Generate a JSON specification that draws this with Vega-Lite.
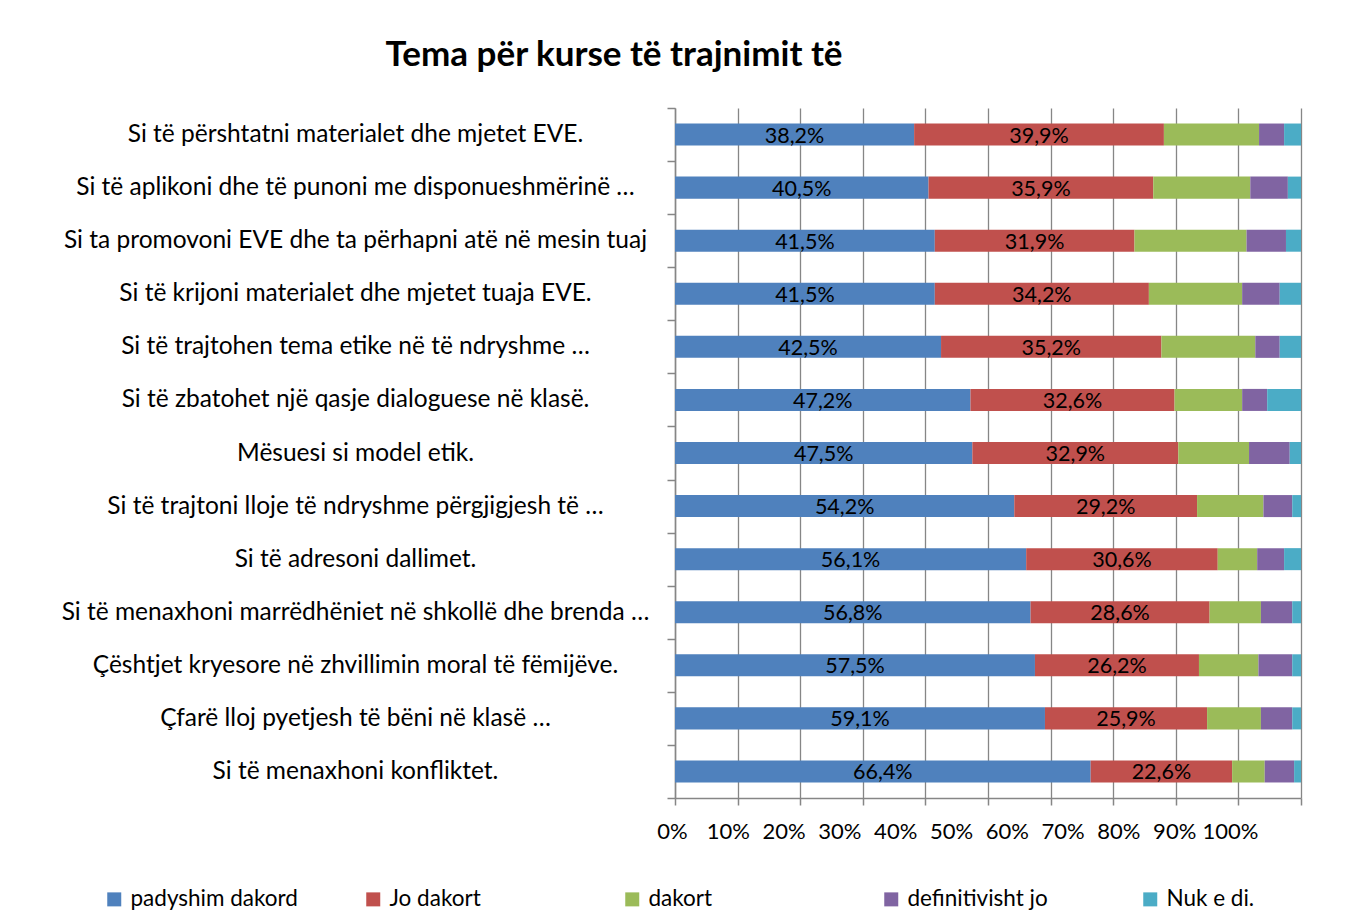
{
  "$schema": "https://vega.github.io/schema/vega-lite/v6.json",
  "autosize": {"type": "none"},
  "padding": {"left": 675, "top": 108, "right": 59, "bottom": 121},
  "width": 626,
  "height": 690,
  "background": "white",
  "title": {
    "text": "Tema për kurse të trajnimit të",
    "font": "Lato",
    "fontSize": 35,
    "fontWeight": "bold",
    "color": "#000000",
    "anchor": "middle",
    "frame": "group",
    "dx": -374,
    "dy": 48,
    "baseline": "alphabetic",
    "offset": 42
  },
  "config": {
    "locale": {
      "number": {"decimal": ",", "thousands": ".", "grouping": [3], "currency": ["", " €"]}
    },
    "view": {"stroke": null},
    "font": "Lato"
  },
  "datasets": {
    "survey": [
      {"topic": "Si të përshtatni materialet dhe mjetet EVE.", "cat": "padyshim dakord", "pct": 38.2},
      {"topic": "Si të përshtatni materialet dhe mjetet EVE.", "cat": "Jo dakort", "pct": 39.9},
      {"topic": "Si të përshtatni materialet dhe mjetet EVE.", "cat": "dakort", "pct": 15.2},
      {"topic": "Si të përshtatni materialet dhe mjetet EVE.", "cat": "definitivisht jo", "pct": 4.0},
      {"topic": "Si të përshtatni materialet dhe mjetet EVE.", "cat": "Nuk e di.", "pct": 2.7},
      {"topic": "Si të aplikoni dhe të punoni me disponueshmërinë …", "cat": "padyshim dakord", "pct": 40.5},
      {"topic": "Si të aplikoni dhe të punoni me disponueshmërinë …", "cat": "Jo dakort", "pct": 35.9},
      {"topic": "Si të aplikoni dhe të punoni me disponueshmërinë …", "cat": "dakort", "pct": 15.5},
      {"topic": "Si të aplikoni dhe të punoni me disponueshmërinë …", "cat": "definitivisht jo", "pct": 6.0},
      {"topic": "Si të aplikoni dhe të punoni me disponueshmërinë …", "cat": "Nuk e di.", "pct": 2.1},
      {"topic": "Si ta promovoni EVE dhe ta përhapni atë në mesin tuaj", "cat": "padyshim dakord", "pct": 41.5},
      {"topic": "Si ta promovoni EVE dhe ta përhapni atë në mesin tuaj", "cat": "Jo dakort", "pct": 31.9},
      {"topic": "Si ta promovoni EVE dhe ta përhapni atë në mesin tuaj", "cat": "dakort", "pct": 17.9},
      {"topic": "Si ta promovoni EVE dhe ta përhapni atë në mesin tuaj", "cat": "definitivisht jo", "pct": 6.3},
      {"topic": "Si ta promovoni EVE dhe ta përhapni atë në mesin tuaj", "cat": "Nuk e di.", "pct": 2.4},
      {"topic": "Si të krijoni materialet dhe mjetet tuaja EVE.", "cat": "padyshim dakord", "pct": 41.5},
      {"topic": "Si të krijoni materialet dhe mjetet tuaja EVE.", "cat": "Jo dakort", "pct": 34.2},
      {"topic": "Si të krijoni materialet dhe mjetet tuaja EVE.", "cat": "dakort", "pct": 14.9},
      {"topic": "Si të krijoni materialet dhe mjetet tuaja EVE.", "cat": "definitivisht jo", "pct": 6.0},
      {"topic": "Si të krijoni materialet dhe mjetet tuaja EVE.", "cat": "Nuk e di.", "pct": 3.4},
      {"topic": "Si të trajtohen tema etike në të ndryshme …", "cat": "padyshim dakord", "pct": 42.5},
      {"topic": "Si të trajtohen tema etike në të ndryshme …", "cat": "Jo dakort", "pct": 35.2},
      {"topic": "Si të trajtohen tema etike në të ndryshme …", "cat": "dakort", "pct": 15.0},
      {"topic": "Si të trajtohen tema etike në të ndryshme …", "cat": "definitivisht jo", "pct": 3.9},
      {"topic": "Si të trajtohen tema etike në të ndryshme …", "cat": "Nuk e di.", "pct": 3.4},
      {"topic": "Si të zbatohet një qasje dialoguese në klasë.", "cat": "padyshim dakord", "pct": 47.2},
      {"topic": "Si të zbatohet një qasje dialoguese në klasë.", "cat": "Jo dakort", "pct": 32.6},
      {"topic": "Si të zbatohet një qasje dialoguese në klasë.", "cat": "dakort", "pct": 10.8},
      {"topic": "Si të zbatohet një qasje dialoguese në klasë.", "cat": "definitivisht jo", "pct": 4.0},
      {"topic": "Si të zbatohet një qasje dialoguese në klasë.", "cat": "Nuk e di.", "pct": 5.4},
      {"topic": "Mësuesi si model etik.", "cat": "padyshim dakord", "pct": 47.5},
      {"topic": "Mësuesi si model etik.", "cat": "Jo dakort", "pct": 32.9},
      {"topic": "Mësuesi si model etik.", "cat": "dakort", "pct": 11.3},
      {"topic": "Mësuesi si model etik.", "cat": "definitivisht jo", "pct": 6.5},
      {"topic": "Mësuesi si model etik.", "cat": "Nuk e di.", "pct": 1.8},
      {"topic": "Si të trajtoni lloje të ndryshme përgjigjesh të …", "cat": "padyshim dakord", "pct": 54.2},
      {"topic": "Si të trajtoni lloje të ndryshme përgjigjesh të …", "cat": "Jo dakort", "pct": 29.2},
      {"topic": "Si të trajtoni lloje të ndryshme përgjigjesh të …", "cat": "dakort", "pct": 10.6},
      {"topic": "Si të trajtoni lloje të ndryshme përgjigjesh të …", "cat": "definitivisht jo", "pct": 4.6},
      {"topic": "Si të trajtoni lloje të ndryshme përgjigjesh të …", "cat": "Nuk e di.", "pct": 1.4},
      {"topic": "Si të adresoni dallimet.", "cat": "padyshim dakord", "pct": 56.1},
      {"topic": "Si të adresoni dallimet.", "cat": "Jo dakort", "pct": 30.6},
      {"topic": "Si të adresoni dallimet.", "cat": "dakort", "pct": 6.3},
      {"topic": "Si të adresoni dallimet.", "cat": "definitivisht jo", "pct": 4.3},
      {"topic": "Si të adresoni dallimet.", "cat": "Nuk e di.", "pct": 2.7},
      {"topic": "Si të menaxhoni marrëdhëniet në shkollë dhe brenda …", "cat": "padyshim dakord", "pct": 56.8},
      {"topic": "Si të menaxhoni marrëdhëniet në shkollë dhe brenda …", "cat": "Jo dakort", "pct": 28.6},
      {"topic": "Si të menaxhoni marrëdhëniet në shkollë dhe brenda …", "cat": "dakort", "pct": 8.2},
      {"topic": "Si të menaxhoni marrëdhëniet në shkollë dhe brenda …", "cat": "definitivisht jo", "pct": 5.0},
      {"topic": "Si të menaxhoni marrëdhëniet në shkollë dhe brenda …", "cat": "Nuk e di.", "pct": 1.4},
      {"topic": "Çështjet kryesore në zhvillimin moral të fëmijëve.", "cat": "padyshim dakord", "pct": 57.5},
      {"topic": "Çështjet kryesore në zhvillimin moral të fëmijëve.", "cat": "Jo dakort", "pct": 26.2},
      {"topic": "Çështjet kryesore në zhvillimin moral të fëmijëve.", "cat": "dakort", "pct": 9.5},
      {"topic": "Çështjet kryesore në zhvillimin moral të fëmijëve.", "cat": "definitivisht jo", "pct": 5.4},
      {"topic": "Çështjet kryesore në zhvillimin moral të fëmijëve.", "cat": "Nuk e di.", "pct": 1.4},
      {"topic": "Çfarë lloj pyetjesh të bëni në klasë …", "cat": "padyshim dakord", "pct": 59.1},
      {"topic": "Çfarë lloj pyetjesh të bëni në klasë …", "cat": "Jo dakort", "pct": 25.9},
      {"topic": "Çfarë lloj pyetjesh të bëni në klasë …", "cat": "dakort", "pct": 8.6},
      {"topic": "Çfarë lloj pyetjesh të bëni në klasë …", "cat": "definitivisht jo", "pct": 5.0},
      {"topic": "Çfarë lloj pyetjesh të bëni në klasë …", "cat": "Nuk e di.", "pct": 1.4},
      {"topic": "Si të menaxhoni konfliktet.", "cat": "padyshim dakord", "pct": 66.4},
      {"topic": "Si të menaxhoni konfliktet.", "cat": "Jo dakort", "pct": 22.6},
      {"topic": "Si të menaxhoni konfliktet.", "cat": "dakort", "pct": 5.2},
      {"topic": "Si të menaxhoni konfliktet.", "cat": "definitivisht jo", "pct": 4.7},
      {"topic": "Si të menaxhoni konfliktet.", "cat": "Nuk e di.", "pct": 1.1}
    ]
  },
  "data": {"name": "survey"},
  "transform": [
    {"calculate": "indexof(['padyshim dakord','Jo dakort','dakort','definitivisht jo','Nuk e di.'], datum.cat)", "as": "ord"},
    {"calculate": "datum.pct / 100", "as": "frac"},
    {"stack": "frac", "groupby": ["topic"], "sort": [{"field": "ord", "order": "ascending"}], "as": ["x0", "x1"]},
    {"calculate": "(datum.x0 + datum.x1) / 2", "as": "mid"}
  ],
  "encoding": {
    "y": {
      "field": "topic",
      "type": "nominal",
      "sort": null,
      "scale": {"paddingInner": 0, "paddingOuter": 0},
      "axis": {
        "title": null,
        "tickBand": "extent",
        "domainColor": "#868686",
        "domainWidth": 1.5,
        "tickColor": "#868686",
        "tickWidth": 1.5,
        "tickSize": 8,
        "labelAlign": "center",
        "labelPadding": 312,
        "labelFont": "Lato",
        "labelFontSize": 24.5,
        "labelColor": "#000000",
        "labelLimit": 700,
        "grid": false
      }
    }
  },
  "layer": [
    {
      "mark": {"type": "bar", "height": {"band": 0.415}},
      "encoding": {
        "x": {
          "field": "x0",
          "type": "quantitative",
          "scale": {"domain": [0, 1], "nice": false},
          "axis": {
            "title": null,
            "format": "%",
            "values": [0, 0.1, 0.2, 0.3, 0.4, 0.5, 0.6, 0.7, 0.8, 0.9, 1],
            "grid": true,
            "gridColor": "#868686",
            "gridWidth": 1.3,
            "domainColor": "#868686",
            "domainWidth": 1.5,
            "tickColor": "#868686",
            "tickWidth": 1.5,
            "tickSize": 7,
            "labelPadding": 16,
            "labelOffset": {"expr": "-3 - 68 * datum.value"},
            "labelFont": "Lato",
            "labelFontSize": 22,
            "labelColor": "#000000",
            "labelFlush": false
          }
        },
        "x2": {"field": "x1"},
        "color": {
          "field": "cat",
          "type": "nominal",
          "scale": {
            "domain": ["padyshim dakord", "Jo dakort", "dakort", "definitivisht jo", "Nuk e di."],
            "range": ["#4F81BD", "#C0504D", "#9BBB59", "#8064A2", "#4BACC6"]
          },
          "legend": {
            "title": null,
            "orient": "none",
            "legendX": -572,
            "legendY": 780,
            "direction": "horizontal",
            "columns": 5,
            "gridAlign": "all",
            "columnPadding": 64,
            "symbolType": "square",
            "symbolSize": 196,
            "symbolStrokeWidth": 0,
            "symbolOpacity": 1,
            "labelFont": "Lato",
            "labelFontSize": 22.5,
            "labelColor": "#000000",
            "labelOffset": 5,
            "labelLimit": 300
          }
        }
      }
    },
    {
      "transform": [{"filter": "datum.ord < 2"}],
      "mark": {"type": "text", "font": "Lato", "fontSize": 21.5, "color": "#000000", "baseline": "middle", "dy": 2},
      "encoding": {
        "x": {"field": "mid", "type": "quantitative"},
        "text": {"field": "frac", "type": "quantitative", "format": ".1%"}
      }
    }
  ]
}
